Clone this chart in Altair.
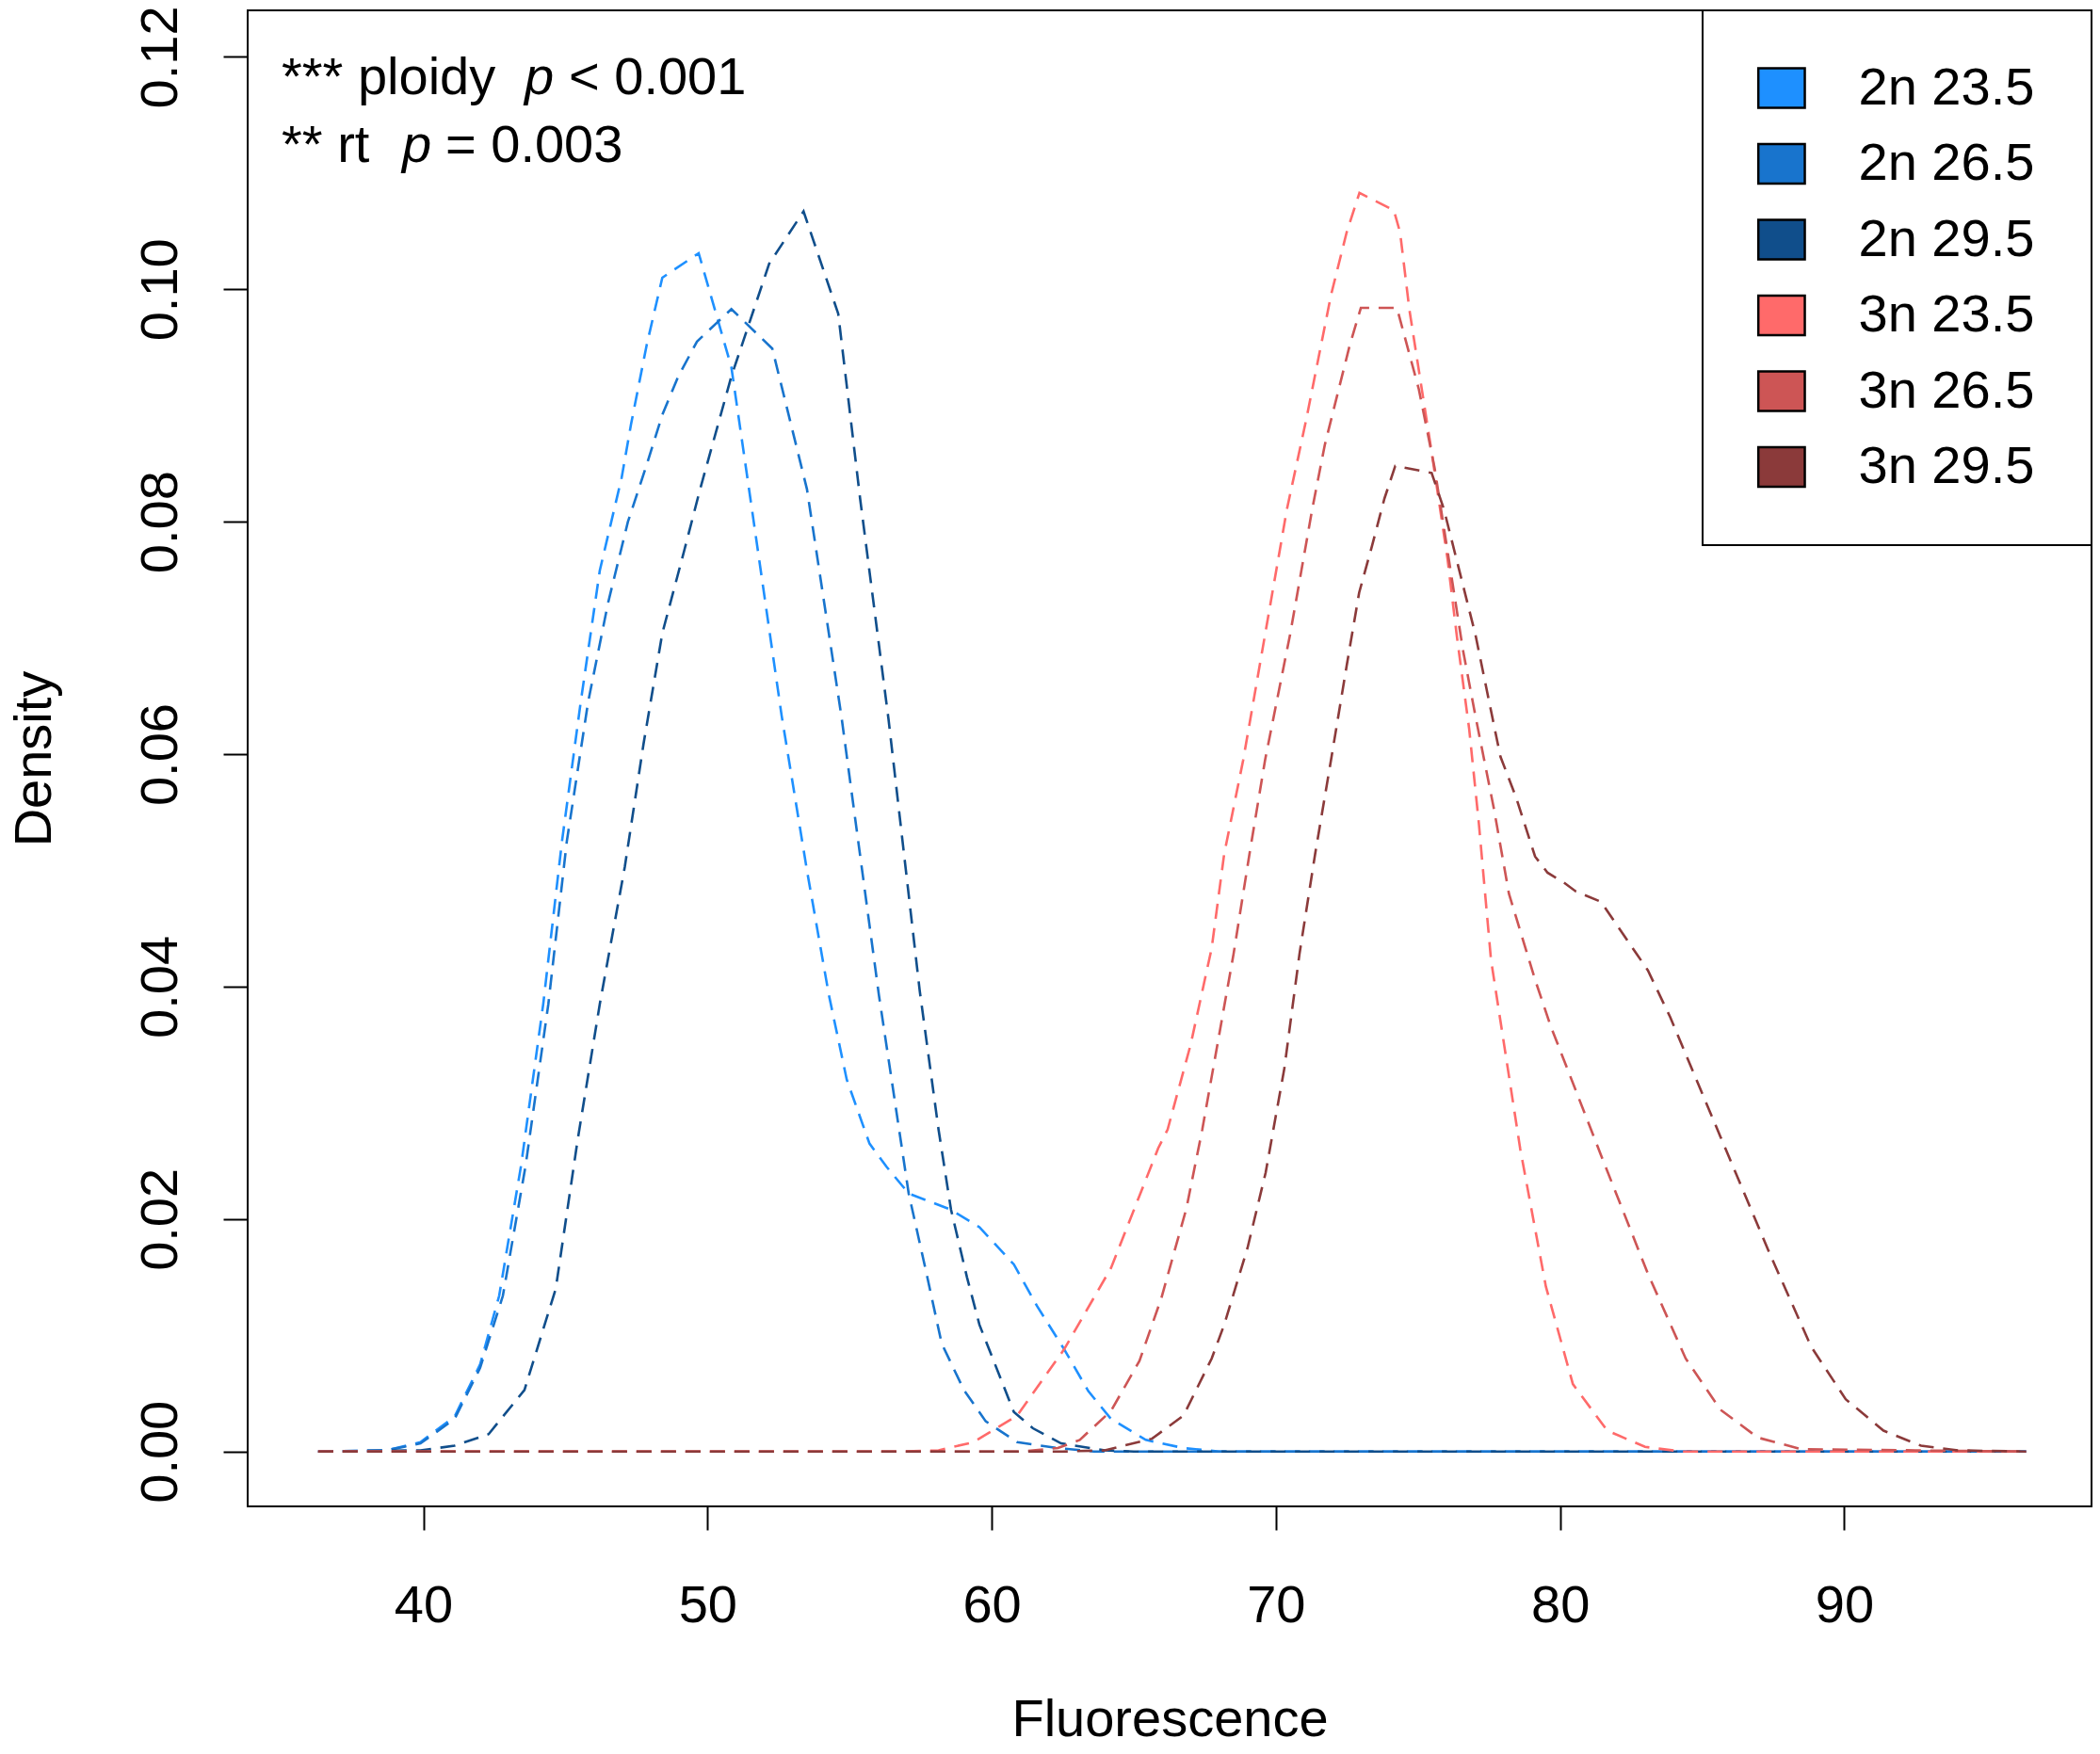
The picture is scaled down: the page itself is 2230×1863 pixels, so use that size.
import altair as alt
import pandas as pd

groups = ["2n 23.5", "2n 26.5", "2n 29.5", "3n 23.5", "3n 26.5", "3n 29.5"]
colors = ["#1E90FF", "#1874CD", "#104E8B", "#FF6A6A", "#CD5555", "#8B3A3A"]

x_2n_235 = [36.3, 38.7, 39.9, 41.1, 42.0, 42.67, 43.44, 44.22, 44.88, 45.54, 46.21, 46.98, 47.31,
            47.86, 48.41, 49.69, 50.84, 51.45, 52.61, 53.5, 54.27, 54.9, 55.7, 56.3, 57.08, 58.57,
            59.57, 60.78, 61.6, 62.55, 63.4, 64.2, 65.42, 66.75, 68.0, 96.4]
y_2n_235 = [0, 0.0001, 0.0008, 0.003, 0.0075, 0.0134, 0.0246, 0.0385, 0.0525, 0.0645, 0.0758, 0.0838, 0.0884,
            0.0952, 0.1010, 0.1031, 0.0933, 0.083, 0.0633, 0.050, 0.0393, 0.032, 0.0265, 0.0245, 0.0222, 0.0208,
            0.0193, 0.0161, 0.0125, 0.0088, 0.0052, 0.0028, 0.001, 0.0003, 0, 0]

x_2n_265 = [36.3, 38.7, 39.9, 41.1, 42.0, 42.8, 43.6, 44.4, 45.05, 45.8, 46.5, 47.2, 47.86, 48.41, 48.97,
            49.63, 50.84, 52.28, 53.5, 54.71, 56.03, 57.08, 57.69, 58.24, 59.02, 59.79, 60.9, 62.33, 63.6, 96.4]
y_2n_265 = [0, 0.0001, 0.0007, 0.0028, 0.0072, 0.0134, 0.0246, 0.0385, 0.0525, 0.0645, 0.073, 0.080, 0.0849,
            0.0892, 0.0925, 0.0955, 0.0983, 0.0949, 0.0828, 0.0633, 0.0393, 0.0222, 0.0155, 0.0093, 0.0053,
            0.0026, 0.0008, 0.0003, 0, 0]

x_2n_295 = [36.3, 39.9, 41.1, 42.3, 43.56, 44.66, 45.43, 46.21, 47.09, 47.75, 48.41, 49.19, 49.74, 50.84,
            52.17, 53.38, 54.6, 55.37, 56.37, 57.47, 58.13, 58.57, 59.13, 59.57, 60.78, 61.45, 62.44, 63.98,
            65.0, 96.4]
y_2n_295 = [0, 0.0001, 0.0005, 0.0015, 0.0053, 0.014, 0.0268, 0.0385, 0.0503, 0.0609, 0.0704, 0.0776, 0.0828,
            0.0925, 0.1022, 0.1067, 0.0979, 0.082, 0.063, 0.0396, 0.0277, 0.0208, 0.015, 0.0109, 0.0034, 0.002,
            0.0007, 0.0001, 0, 0]

x_3n_235 = [36.3, 56.9, 58.13, 59.35, 60.9, 62.55, 64.2, 65.86, 66.19, 67.0, 67.74, 68.18, 68.85, 69.62,
            70.39, 71.06, 71.5, 71.94, 72.49, 72.94, 74.15, 74.37, 74.7, 75.48, 76.04, 76.36, 76.8, 77.14,
            77.57, 78.6, 79.5, 80.45, 81.66, 82.99, 84.3, 96.4]
y_3n_235 = [0, 0, 0.0001, 0.0008, 0.0031, 0.0088, 0.0158, 0.0261, 0.0277, 0.035, 0.0433, 0.0514, 0.0595, 0.0703,
            0.0811, 0.0887, 0.0941, 0.0995, 0.1049, 0.1083, 0.1068, 0.1049, 0.0982, 0.086, 0.0768, 0.0703,
            0.0622, 0.0541, 0.0423, 0.026, 0.0142, 0.0058, 0.0018, 0.0004, 0, 0]

x_3n_265 = [36.3, 61.0, 62.33, 63.1, 64.2, 65.2, 65.97, 66.85, 67.41, 68.51, 69.07, 69.62, 70.5, 71.28,
            71.72, 72.16, 72.6, 72.99, 74.26, 75.03, 75.58, 76.58, 77.02, 77.68, 78.2, 79.12, 79.67, 81.44,
            83.09, 84.42, 85.64, 86.96, 88.5, 96.4]
y_3n_265 = [0, 0, 0.0003, 0.0010, 0.0035, 0.0078, 0.0132, 0.0209, 0.0277, 0.0428, 0.0514, 0.0595, 0.0703, 0.0811,
            0.0866, 0.0909, 0.0952, 0.0984, 0.0984, 0.0914, 0.0847, 0.069, 0.0633, 0.0552, 0.048, 0.0406,
            0.0366, 0.0255, 0.0153, 0.008, 0.0036, 0.0012, 0.0002, 0]

x_3n_295 = [36.3, 62.5, 63.98, 65.64, 66.75, 67.74, 68.18, 69.0, 69.64, 70.3, 70.83, 71.38, 71.94, 72.49,
            72.93, 73.38, 73.82, 74.2, 75.48, 75.91, 77.02, 77.9, 78.45, 79.12, 79.56, 80.11, 80.55, 81.44,
            83.09, 83.87, 85.64, 87.4, 88.84, 90.05, 91.38, 92.7, 94.0, 96.4]
y_3n_295 = [0, 0, 0.0001, 0.0011, 0.0031, 0.008, 0.0109, 0.0175, 0.024, 0.033, 0.0428, 0.0514, 0.0595, 0.0676,
            0.0739, 0.0779, 0.082, 0.0848, 0.0842, 0.0811, 0.0703, 0.0598, 0.0563, 0.0512, 0.0498, 0.049,
            0.0482, 0.0473, 0.0414, 0.0374, 0.0271, 0.0169, 0.009, 0.0045, 0.0018, 0.0005, 0.0001, 0]

series_x = [x_2n_235, x_2n_265, x_2n_295, x_3n_235, x_3n_265, x_3n_295]
series_y = [y_2n_235, y_2n_265, y_2n_295, y_3n_235, y_3n_265, y_3n_295]

x_ticks = [40, 50, 60, 70, 80, 90]
y_ticks = [0, 0.02, 0.04, 0.06, 0.08, 0.10, 0.12]

rows = []
for g, xs, ys in zip(groups, series_x, series_y):
    for i, (a, b) in enumerate(zip(xs, ys)):
        rows.append({"group": g, "order": i, "x": a, "y": b})
df = pd.DataFrame(rows)
first = df[df["order"] == 0]

FONT = "Liberation Sans"
FS = 56

xscale = alt.Scale(domain=[33.82, 98.70], nice=False, zero=False)
yscale = alt.Scale(domain=[-0.00472, 0.1240], nice=False, zero=False)

x_axis = alt.Axis(values=x_ticks, title="Fluorescence", format="d", tickSize=25,
                  labelPadding=97, labelBaseline="alphabetic", labelAlign="center",
                  titleX=979, titleY=243, titleAlign="center", titleBaseline="alphabetic",
                  labelFlush=False, labelOverlap=False)
y_axis = alt.Axis(values=y_ticks, title="Density", format=".2f", tickSize=26,
                  labelPadding=50, labelAngle=270, labelAlign="center", labelBaseline="alphabetic",
                  titleX=-210, titleY=794.5, titleAngle=270, titleAlign="center",
                  titleBaseline="alphabetic", labelFlush=False, labelOverlap=False)

lines = alt.Chart(df).mark_line(strokeDash=[16, 10], strokeWidth=2.6).encode(
    x=alt.X("x:Q", scale=xscale, axis=x_axis),
    y=alt.Y("y:Q", scale=yscale, axis=y_axis),
    color=alt.Color("group:N", scale=alt.Scale(range=colors), legend=None),
    order=alt.Order("order:Q"),
)

# filled rectangle key, plus an empty zero-length sub-path that widens the legend box
rect_symbol = "M-1.11,-1L1.24,-1L1.24,1L-1.11,1ZM13.15,0L13.15,0"

legend_pts = alt.Chart(first).mark_point(shape="square", filled=True, opacity=0).encode(
    x="x:Q",
    y="y:Q",
    fill=alt.Fill("group:N", scale=alt.Scale(domain=groups, range=colors), legend=alt.Legend(
        title=None, orient="none", legendX=1545, legendY=0,
        symbolType=rect_symbol, symbolSize=1764, symbolStrokeColor="black",
        symbolStrokeWidth=2.5, symbolOpacity=1,
        labelFont=FONT, labelFontSize=56, labelColor="black", labelOffset=55,
        labelLimit=500,
        rowPadding=24.5, padding=54.5, strokeColor="black")),
)

one = pd.DataFrame({"k": [0]})


def label(txt, px, py, italic=False):
    return alt.Chart(one).mark_text(
        text=txt, x=px, y=py, align="left", baseline="alphabetic",
        font=FONT, fontSize=FS, color="black",
        fontStyle="italic" if italic else "normal")


ann = [
    label("*** ploidy", 36, 89),
    label("p", 294, 89, True),
    label("< 0.001", 341, 89),
    label("** rt", 36, 161),
    label("p", 164, 161, True),
    label("= 0.003", 210, 161),
]

chart = alt.layer(lines, legend_pts, *ann).properties(
    width=1958, height=1589,
    autosize=alt.AutoSizeParams(type="none"),
    padding={"left": 255, "top": 3, "right": 1, "bottom": 254},
    background="white",
).configure_view(stroke="black", strokeWidth=2).configure_axis(
    labelFont=FONT, labelFontSize=FS, labelColor="black",
    titleFont=FONT, titleFontSize=FS, titleFontWeight="normal", titleColor="black",
    tickColor="black", tickWidth=2, domain=False, grid=False,
).configure_legend(strokeWidth=2)

chart.save("out.html", embed_options={"renderer": "svg", "actions": False})
